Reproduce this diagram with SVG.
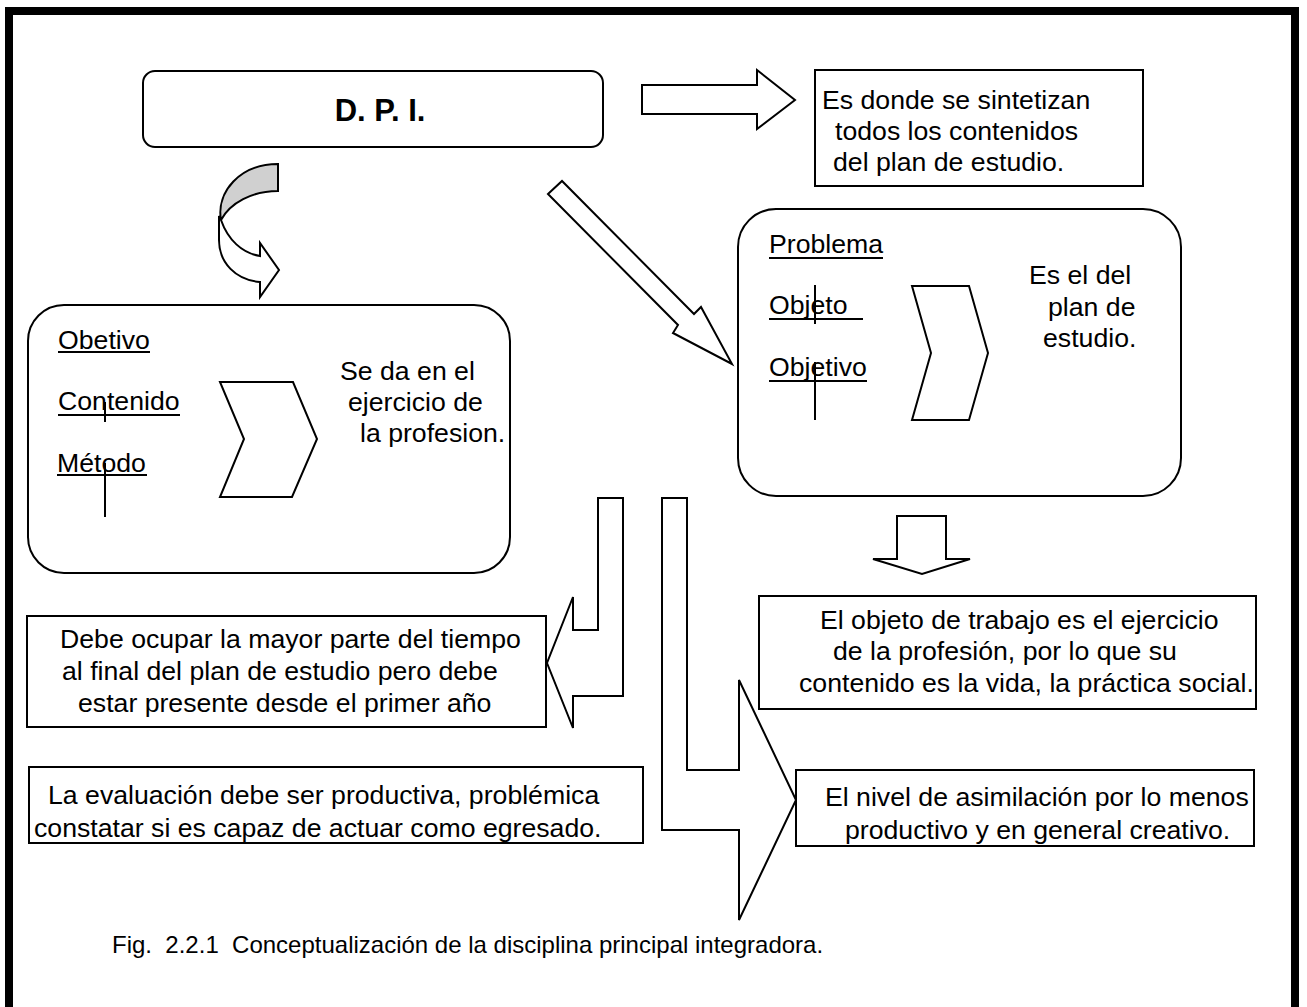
<svg xmlns="http://www.w3.org/2000/svg" width="1307" height="1007" viewBox="0 0 1307 1007">
<style>
  .t{font-family:"Liberation Sans",Arial,sans-serif;font-size:26.67px;fill:#000}
  .b{fill:#fff;stroke:#000;stroke-width:2}
  .a{fill:#fff;stroke:#000;stroke-width:2;stroke-linejoin:miter}
  .u{stroke:#000;stroke-width:2}
</style>
<defs>
  <clipPath id="c1"><rect x="29" y="767" width="614" height="75"/></clipPath>
  <clipPath id="c2"><rect x="796" y="770" width="458" height="75"/></clipPath>
</defs>
<rect x="0" y="0" width="1307" height="1007" fill="#fff"/>
<rect x="9" y="11" width="1286" height="1000" fill="none" stroke="#000" stroke-width="8"/>

<g id="connectors">
  <polygon class="a" points="642,85 757,85 757,70 795,100 757,129 757,114 642,114"/>
  <path fill="#d0d0d0" stroke="#000" stroke-width="2" d="M278,164 L278,191 C252,191 230,203 221,220 C216,192 240,164 278,164 Z"/>
  <path class="a" d="M221,220 C228,240 242,253 260,256 L260,243 L279,270 L260,297 L260,282 C236,280 219,263 219,240 L219,216 Z"/>
  <polygon class="a" points="548,194 562,181 694,314 701,307 732,364 673,333 678,325"/>
  <polygon class="a" points="897,516 946,516 946,559 970,559 922,574 873,559 897,559"/>
  <polygon class="a" points="598,498 623,498 623,696 573,696 573,728 547,663 573,597 573,630 598,630"/>
  <polygon class="a" points="662,498 687,498 687,770 739,770 739,680 796,800 739,920 739,830 662,830"/>
</g>

<g id="dpi">
  <rect class="b" x="143" y="71" width="460" height="76" rx="12"/>
  <text class="t" x="380" y="121" text-anchor="middle" style="font-weight:bold;font-size:31px">D. P. I.</text>
</g>

<g id="sintetizan">
  <rect class="b" x="815" y="70" width="328" height="116"/>
  <text class="t" x="822" y="109">Es donde se sintetizan</text>
  <text class="t" x="835" y="140">todos los contenidos</text>
  <text class="t" x="833" y="171">del plan de estudio.</text>
</g>

<g id="profesion">
  <rect class="b" x="28" y="305" width="482" height="268" rx="36"/>
  <text class="t" x="58" y="349">Obetivo</text>
  <line class="u" x1="58" y1="352" x2="150" y2="352"/>
  <text class="t" x="58" y="410">Contenido</text>
  <line class="u" x1="58" y1="415" x2="180" y2="415"/>
  <line class="u" x1="105" y1="402" x2="105" y2="422"/>
  <text class="t" x="57" y="472">Método</text>
  <line class="u" x1="57" y1="475" x2="147" y2="475"/>
  <line class="u" x1="105" y1="463" x2="105" y2="517"/>
  <polygon class="a" points="220,382 293,382 317,439 292,497 220,497 244,439"/>
  <text class="t" x="340" y="380">Se da en el</text>
  <text class="t" x="348" y="411">ejercicio de</text>
  <text class="t" x="360" y="442">la profesion.</text>
</g>

<g id="plan">
  <rect class="b" x="738" y="209" width="443" height="287" rx="38"/>
  <text class="t" x="769" y="253">Problema</text>
  <line class="u" x1="769" y1="258" x2="883" y2="258"/>
  <text class="t" x="769" y="314">Objeto</text>
  <line class="u" x1="769" y1="319" x2="863" y2="319"/>
  <line class="u" x1="815" y1="285" x2="815" y2="324"/>
  <text class="t" x="769" y="376">Objetivo</text>
  <line class="u" x1="769" y1="381" x2="867" y2="381"/>
  <line class="u" x1="815" y1="362" x2="815" y2="420"/>
  <polygon class="a" points="912,286 969,286 988,353 969,420 912,420 931,353"/>
  <text class="t" x="1029" y="284">Es el del</text>
  <text class="t" x="1048" y="316">plan de</text>
  <text class="t" x="1043" y="347">estudio.</text>
</g>

<g id="objeto">
  <rect class="b" x="759" y="596" width="497" height="113"/>
  <text class="t" x="820" y="629">El objeto de trabajo es el ejercicio</text>
  <text class="t" x="833" y="660">de la profesión, por lo que su</text>
  <text class="t" x="799" y="692">contenido es la vida, la práctica social.</text>
</g>

<g id="ocupar">
  <rect class="b" x="27" y="616" width="519" height="111"/>
  <text class="t" x="60" y="648">Debe ocupar la mayor parte del tiempo</text>
  <text class="t" x="62" y="680">al final del plan de estudio pero debe</text>
  <text class="t" x="78" y="712">estar presente desde el primer año</text>
</g>

<g id="evaluacion">
  <rect class="b" x="29" y="767" width="614" height="76"/>
  <g clip-path="url(#c1)">
    <text class="t" x="48" y="804">La evaluación debe ser productiva, problémica</text>
    <text class="t" x="34" y="837">constatar si es capaz de actuar como egresado.</text>
  </g>
</g>

<g id="nivel">
  <rect class="b" x="796" y="770" width="458" height="76"/>
  <g clip-path="url(#c2)">
    <text class="t" x="825" y="806">El nivel de asimilación por lo menos</text>
    <text class="t" x="845" y="839">productivo y en general creativo.</text>
  </g>
</g>

<g id="caption">
  <text class="t" x="112" y="953" style="font-size:24px" xml:space="preserve">Fig.  2.2.1  Conceptualización de la disciplina principal integradora.</text>
</g>
</svg>
